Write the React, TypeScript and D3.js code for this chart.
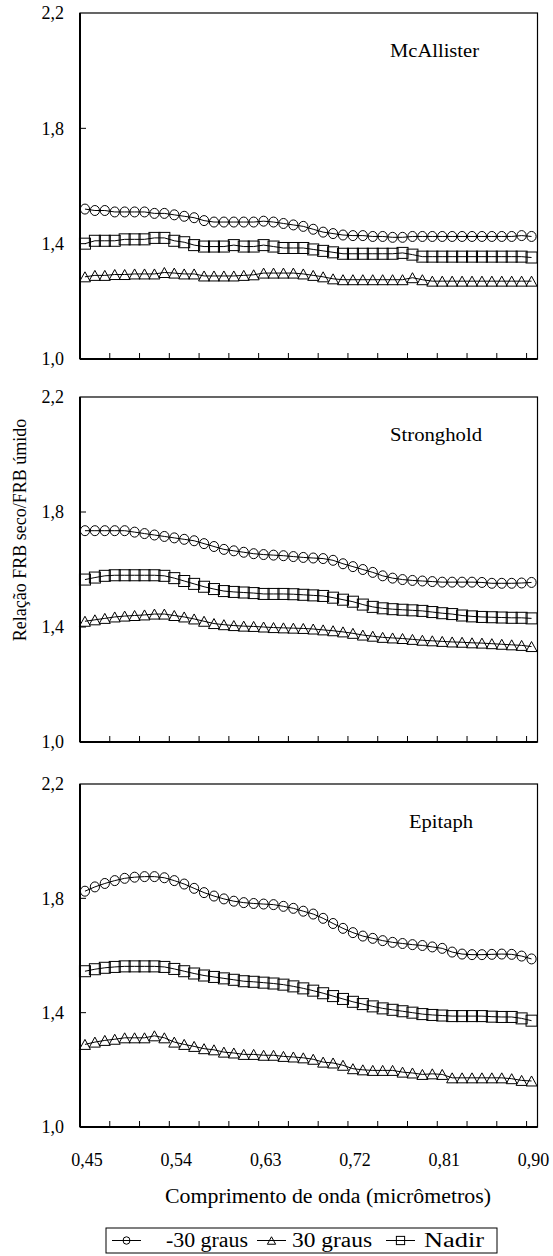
import React from "react";
import * as d3 from "d3";

// wavelength (micrometres), one sample every 0.01
const wavelengths = d3.range(46).map((i) => +(0.455 + i * 0.01).toFixed(3));
const xTickValues = d3.range(16).map((i) => +(0.45 + i * 0.03).toFixed(2));
const xLabelValues = [0.45, 0.54, 0.63, 0.72, 0.81, 0.9];
const yLabelValues = [1.0, 1.4, 1.8, 2.2];

const panelNames = ["McAllister", "Stronghold", "Epitaph"];
const seriesNames = ["-30 graus", "30 graus", "Nadir"];

// McAllister
const mcMinus30 = [1.52, 1.515, 1.515, 1.51, 1.51, 1.51, 1.51, 1.505, 1.505, 1.5, 1.495, 1.49, 1.48, 1.475, 1.475, 1.475, 1.475, 1.475, 1.478, 1.475, 1.47, 1.465, 1.46, 1.45, 1.44, 1.435, 1.43, 1.428, 1.428, 1.425, 1.425, 1.422, 1.422, 1.425, 1.425, 1.425, 1.425, 1.425, 1.425, 1.425, 1.425, 1.425, 1.425, 1.425, 1.428, 1.425];
const mcPlus30 = [1.285, 1.29, 1.29, 1.293, 1.293, 1.295, 1.295, 1.295, 1.3, 1.298, 1.295, 1.295, 1.288, 1.288, 1.288, 1.288, 1.29, 1.292, 1.298, 1.298, 1.298, 1.298, 1.295, 1.29, 1.285, 1.278, 1.275, 1.275, 1.275, 1.275, 1.275, 1.275, 1.275, 1.282, 1.275, 1.27, 1.27, 1.27, 1.27, 1.27, 1.27, 1.27, 1.27, 1.27, 1.27, 1.27];
const mcNadir = [1.4, 1.41, 1.41, 1.41, 1.415, 1.415, 1.415, 1.42, 1.42, 1.41, 1.405, 1.395, 1.39, 1.39, 1.39, 1.395, 1.39, 1.39, 1.395, 1.39, 1.385, 1.385, 1.385, 1.38, 1.375, 1.37, 1.365, 1.365, 1.365, 1.365, 1.365, 1.365, 1.368, 1.362, 1.355, 1.355, 1.355, 1.355, 1.355, 1.355, 1.355, 1.355, 1.355, 1.355, 1.355, 1.352];

// Stronghold
const stMinus30 = [1.735, 1.735, 1.735, 1.735, 1.735, 1.73, 1.725, 1.72, 1.715, 1.71, 1.705, 1.7, 1.69, 1.68, 1.67, 1.665, 1.66, 1.655, 1.652, 1.65, 1.648, 1.645, 1.642, 1.64, 1.638, 1.632, 1.62, 1.61, 1.6, 1.59, 1.578, 1.57, 1.565, 1.562, 1.56, 1.558, 1.556, 1.556, 1.556, 1.556, 1.555, 1.552, 1.552, 1.552, 1.553, 1.555];
const stPlus30 = [1.42, 1.425, 1.43, 1.435, 1.438, 1.44, 1.442, 1.445, 1.445, 1.44, 1.435, 1.428, 1.42, 1.412, 1.408, 1.405, 1.403, 1.402, 1.4, 1.398, 1.397, 1.396, 1.395, 1.393, 1.39, 1.387, 1.383, 1.378, 1.372, 1.368, 1.364, 1.362, 1.36, 1.357, 1.354, 1.352, 1.35, 1.348, 1.347, 1.345, 1.344, 1.342, 1.34, 1.338, 1.336, 1.332];
const stNadir = [1.565, 1.572, 1.578, 1.58, 1.58, 1.58, 1.58, 1.58, 1.578, 1.57, 1.56, 1.55, 1.54, 1.532, 1.525, 1.522, 1.52, 1.518, 1.515, 1.515, 1.515, 1.514, 1.512, 1.51, 1.508, 1.502, 1.495, 1.488, 1.478, 1.47, 1.465, 1.462, 1.46, 1.458, 1.456, 1.452, 1.448, 1.445, 1.44, 1.437, 1.435, 1.434, 1.433, 1.432, 1.432, 1.43];

// Epitaph
const epMinus30 = [1.825, 1.84, 1.852, 1.862, 1.87, 1.874, 1.876, 1.876, 1.872, 1.862, 1.85, 1.835, 1.82, 1.808, 1.798, 1.79, 1.785, 1.782, 1.78, 1.778, 1.772, 1.765, 1.755, 1.745, 1.73, 1.712, 1.695, 1.68, 1.668, 1.66, 1.652, 1.646, 1.642, 1.638, 1.635, 1.63, 1.625, 1.612, 1.605, 1.603, 1.603, 1.604, 1.605, 1.604, 1.598, 1.588];
const epPlus30 = [1.289, 1.297, 1.303, 1.307, 1.312, 1.312, 1.312, 1.319, 1.312, 1.297, 1.289, 1.282, 1.274, 1.27, 1.262, 1.259, 1.254, 1.254, 1.251, 1.251, 1.247, 1.245, 1.242, 1.237, 1.227, 1.224, 1.216, 1.204, 1.2, 1.198, 1.198, 1.198, 1.192, 1.189, 1.184, 1.186, 1.184, 1.172, 1.172, 1.172, 1.172, 1.172, 1.172, 1.169, 1.163, 1.161];
const epNadir = [1.545, 1.552, 1.557, 1.56, 1.562, 1.562, 1.562, 1.562, 1.56, 1.553, 1.545, 1.537, 1.53, 1.525, 1.52, 1.515, 1.51, 1.508, 1.505, 1.502, 1.498, 1.492, 1.485, 1.477, 1.468, 1.458, 1.448, 1.438, 1.43, 1.422, 1.415, 1.41, 1.405, 1.4, 1.395, 1.392, 1.39, 1.388, 1.388, 1.388, 1.388, 1.386, 1.385, 1.385, 1.38, 1.372];

const panelSeries = [
  [mcMinus30, mcPlus30, mcNadir],
  [stMinus30, stPlus30, stNadir],
  [epMinus30, epPlus30, epNadir],
];

const W = 553;
const H = 1256;
const FONT = "Liberation Serif";
const left = 80;
const right = 537.5;
const panelBox = [
  { top: 13, bottom: 359 },
  { top: 397, bottom: 742 },
  { top: 784, bottom: 1127 },
];
// right edge and stretched width of the panel names
const nameEnd = [479, 482, 473];
const nameLen = [89, 92, 64];

const x = d3.scaleLinear().domain([0.45, 0.911]).range([left, right]);
const fmt = (v: number, d: number) => v.toFixed(d).replace(".", ",");

const marker = (kind: number, cx: number, cy: number, s = 1) => {
  if (kind === 0) return <ellipse cx={cx} cy={cy} rx={4.6 * s} ry={5 * s} fill="none" stroke="#000" strokeWidth={1} />;
  if (kind === 1) {
    const w = 5.5 * s, h = 5 * s;
    return <path d={`M${cx},${cy - h}L${cx + w},${cy + h}L${cx - w},${cy + h}Z`} fill="none" stroke="#000" strokeWidth={1} />;
  }
  const a = 5.5 * s;
  return <rect x={cx - a} y={cy - a} width={2 * a} height={2 * a} fill="none" stroke="#000" strokeWidth={1} />;
};

const Panel = ({ idx }: { idx: number }) => {
  const { top, bottom } = panelBox[idx];
  const y = d3.scaleLinear().domain([1.0, 2.2]).range([bottom, top]);
  const line = d3.line<number>().x((_, i) => x(wavelengths[i])).y((d) => y(d));
  return (
    <g>
      {panelSeries[idx].map((vals, k) => (
        <g key={k}>
          <path d={line(vals) || ""} fill="none" stroke="#000" strokeWidth={1} />
          {vals.map((v, i) => <g key={i}>{marker(k, x(wavelengths[i]), y(v))}</g>)}
        </g>
      ))}
      <rect x={left} y={top} width={right - left} height={bottom - top} fill="none" stroke="#000" strokeWidth={1.2} />
      <line x1={left} x2={left} y1={top} y2={bottom} stroke="#000" strokeWidth={2} />
      <line x1={left} x2={right} y1={bottom} y2={bottom} stroke="#000" strokeWidth={2} />
      {xTickValues.slice(1).map((t) => (
        <line key={t} x1={x(t)} x2={x(t)} y1={bottom} y2={bottom - 6} stroke="#000" strokeWidth={1} />
      ))}
      {yLabelValues.map((v) => (
        <g key={v}>
          {v > 1 && v < 2.2 && <line x1={left} x2={left + 6} y1={y(v)} y2={y(v)} stroke="#000" strokeWidth={1} />}
          <text x={64} y={y(v)} dy="0.35em" textAnchor="end" style={{ fontFamily: FONT, fontSize: 18 }}>{fmt(v, 1)}</text>
        </g>
      ))}
      <text x={nameEnd[idx] - nameLen[idx]} y={top + 44} textLength={nameLen[idx]} lengthAdjust="spacingAndGlyphs" style={{ fontFamily: FONT, fontSize: 19 }}>
        {panelNames[idx]}
      </text>
    </g>
  );
};

export default function App() {
  const bottom = panelBox[2].bottom;
  const legendItems = [
    { sx: 112, tx: 166, len: 82 },
    { sx: 257, tx: 292, len: 80 },
    { sx: 386, tx: 424, len: 60 },
  ];
  return (
    <svg width={W} height={H} style={{ position: "absolute", left: 0, top: 0, background: "#fff" }}>
      {[0, 1, 2].map((i) => <Panel key={i} idx={i} />)}
      {xLabelValues.map((v) => (
        <text key={v} x={x(v) + 7} y={bottom + 39} textAnchor="middle" style={{ fontFamily: FONT, fontSize: 18 }}>{fmt(v, 2)}</text>
      ))}
      <text x={165} y={bottom + 76} textLength={326} lengthAdjust="spacingAndGlyphs" style={{ fontFamily: FONT, fontSize: 20 }}>
        Comprimento de onda (micrômetros)
      </text>
      <text transform={`translate(26,530) rotate(-90)`} textAnchor="middle" style={{ fontFamily: FONT, fontSize: 18 }}>
        Relação FRB seco/FRB úmido
      </text>
      <rect x={106} y={1228} width={391} height={25} fill="none" stroke="#000" strokeWidth={1} />
      {legendItems.map((it, k) => (
        <g key={k}>
          <line x1={it.sx} x2={it.sx + 29} y1={1240.5} y2={1240.5} stroke="#000" strokeWidth={1} />
          {marker(k, it.sx + 14.5, 1240.5, 0.75)}
          <text x={it.tx} y={1247} textLength={it.len} lengthAdjust="spacingAndGlyphs" style={{ fontFamily: FONT, fontSize: 20 }}>
            {seriesNames[k]}
          </text>
        </g>
      ))}
    </svg>
  );
}
